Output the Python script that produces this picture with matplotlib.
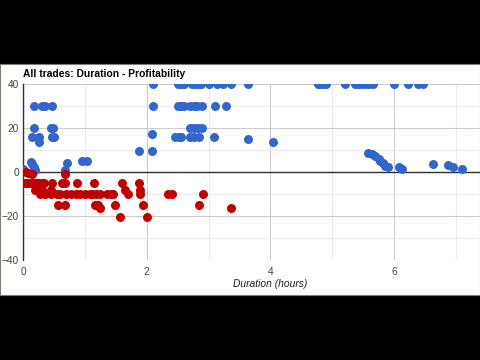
import matplotlib.pyplot as plt
from matplotlib.patches import Rectangle

# profitable trades (blue)
win_hours = [2.1, 2.51, 2.55, 2.6, 2.73, 2.78, 2.83, 2.88, 3.0, 3.14, 3.24, 3.37, 3.64,
             4.77, 4.8, 4.85, 4.9, 5.21, 5.37, 5.42, 5.47, 5.53, 5.6, 5.66, 6.0, 6.23, 6.39, 6.47,
             0.18, 0.31, 0.36, 0.47, 2.1, 2.51, 2.55, 2.6, 2.7, 2.76, 2.82, 2.9, 3.11, 3.28,
             0.18, 0.45, 0.49, 2.7, 2.76, 2.83, 2.9,
             0.15, 0.26, 0.47, 0.5, 2.08, 2.46, 2.53, 2.56, 2.7, 2.76, 2.85, 3.09, 3.64,
             0.26, 4.05, 1.88, 2.08,
             0.0, 0.13, 0.15, 0.18, 0.2, 0.68, 0.71, 0.95, 1.04,
             5.58, 5.65, 5.7, 5.75, 5.78, 5.82, 5.86, 5.9, 6.08, 6.13, 6.63, 6.88, 6.96, 7.1]
win_profit = [40] * 28 + \
             [30] * 14 + \
             [20] * 7 + \
             [16, 16, 16, 16, 17, 16, 16, 16, 16, 16, 16, 16, 15] + \
             [13.6, 13.6, 9.5, 9.5] + \
             [1.5, 4.5, 3.5, 2, 1, 1, 4, 5, 5] + \
             [8.6, 8.2, 7.3, 6, 5, 4, 2.7, 2.3, 2.2, 1.4, 3.6, 3.2, 2.3, 1.4]

# losing trades (red)
loss_hours = [0.05, 0.08, 0.15, 0.68,
              0.03, 0.06, 0.1, 0.14, 0.18, 0.22, 0.26, 0.3, 0.34, 0.47, 0.63, 0.68, 0.87, 1.15, 1.6, 1.88,
              0.2, 0.25, 0.3, 0.45, 1.65, 1.89,
              0.28, 0.35, 0.45, 0.55, 0.6, 0.7, 0.78, 0.85, 0.92, 1.0, 1.08, 1.12, 1.18, 1.25, 1.36,
              1.42, 1.46, 1.7, 1.89, 2.35, 2.41, 2.91,
              0.57, 0.68, 1.17, 1.22, 1.49, 1.94, 2.85,
              1.25, 3.37,
              1.56, 2.0]
loss_profit = [0, -0.5, -1, -1] + \
              [-5] * 16 + \
              [-8] * 6 + \
              [-10] * 22 + \
              [-15] * 7 + \
              [-16.5] * 2 + \
              [-20.5] * 2

plt.rcParams['font.family'] = ['Liberation Sans', 'DejaVu Sans']

fig = plt.figure(figsize=(4.8, 3.6), dpi=100)
fig.patch.set_facecolor('black')
fig.patches.append(Rectangle((0, 0.181), 1, 0.641, transform=fig.transFigure,
                             facecolor='white', edgecolor='#7a8270', linewidth=0.8, zorder=-5))

ax = fig.add_axes([0.048, 0.278, 0.952, 0.489])
ax.set_facecolor('none')

ax.scatter(win_hours, win_profit, s=42, color='#3366cc', zorder=3, linewidths=0)
ax.scatter(loss_hours, loss_profit, s=42, color='#c00000', zorder=3, linewidths=0)

ax.set_xlim(0, 7.39)
ax.set_ylim(-40, 40)
ax.set_xticks([0, 2, 4, 6])
ax.set_xticks([1, 3, 5, 7], minor=True)
ax.set_yticks([-40, -20, 0, 20, 40])
ax.set_yticks([-30, -10, 10, 30], minor=True)
ax.grid(which='major', color='#cccccc', linewidth=0.8)
ax.grid(which='minor', color='#ebebeb', linewidth=0.8)
ax.set_axisbelow(True)
ax.axhline(0, color='#333333', linewidth=1, zorder=2)

for side in ['top', 'right', 'bottom']:
    ax.spines[side].set_visible(False)
ax.spines['left'].set_color('#333333')
ax.spines['left'].set_linewidth(1)
ax.tick_params(which='both', length=0, labelsize=7.3, colors='#444444')
ax.tick_params(axis='y', pad=3)
ax.tick_params(axis='x', pad=5)

fig.text(0.048, 0.795, 'All trades: Duration - Profitability', fontsize=7.4,
         fontweight='bold', color='black', va='center', ha='left')
fig.text(0.5625, 0.21, 'Duration (hours)', fontsize=7.4, style='italic',
         color='#222222', va='center', ha='center')

fig.savefig('out.png', dpi=100, facecolor=fig.get_facecolor())
